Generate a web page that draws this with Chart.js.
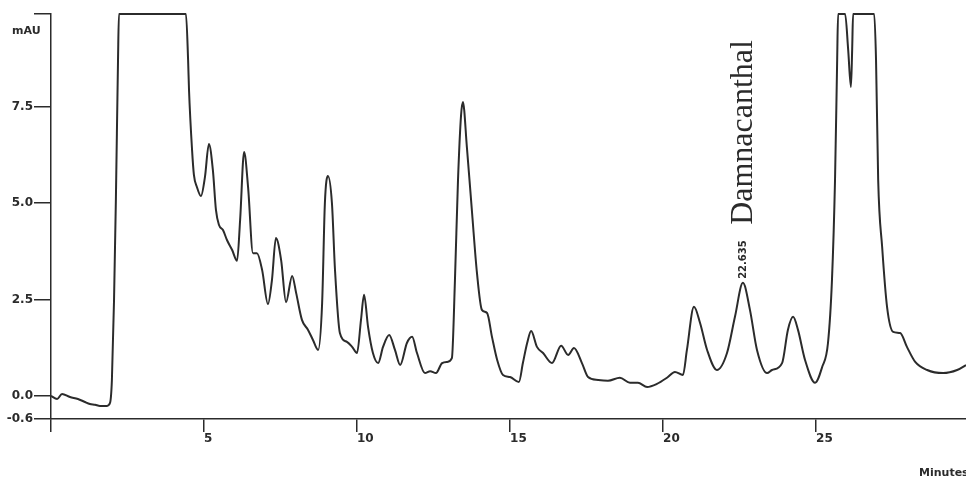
<!DOCTYPE html>
<html lang="en">
<head>
    <meta charset="UTF-8">
    <title>HPLC chromatogram - Damnacanthal</title>
    <script src="https://cdn.jsdelivr.net/npm/chart.js"></script>
    <style>
        body {
            margin: 0;
            background: #ffffff;
        }
        .wrap {
            width: 966px;
            height: 479px;
        }
    </style>
</head>
<body>
    <div class="wrap">
        <canvas id="chromChart" width="966" height="479"></canvas>
    </div>

    <script>
        // Retention time (minutes) and detector signal (mAU)
        const timeMin = [
            0.00, 0.20, 0.36, 0.62, 0.88, 1.11, 1.27, 1.44, 1.60, 1.83, 1.93, 1.99, 2.06, 2.12, 2.19, 2.22,
            4.41, 4.48, 4.51, 4.61, 4.67, 4.77, 4.90, 5.03, 5.16, 5.29, 5.39, 5.49, 5.62, 5.75, 5.92, 6.08,
            6.18, 6.31, 6.44, 6.60, 6.73, 6.90, 7.09, 7.22, 7.35, 7.52, 7.68, 7.88, 8.01, 8.20, 8.40, 8.56,
            8.73, 8.86, 8.95, 9.05, 9.18, 9.28, 9.44, 9.67, 9.84, 10.00, 10.13, 10.23, 10.36, 10.52, 10.69,
            10.85, 11.05, 11.24, 11.41, 11.63, 11.80, 11.96, 12.22, 12.39, 12.58, 12.78, 12.94, 13.10, 13.20,
            13.30, 13.40, 13.46, 13.59, 13.76, 13.92, 14.08, 14.25, 14.41, 14.58, 14.77, 15.00, 15.29, 15.42,
            15.56, 15.69, 15.88, 16.08, 16.37, 16.67, 16.90, 17.09, 17.35, 17.55, 17.88, 18.20, 18.59, 18.92,
            19.18, 19.48, 19.80, 20.13, 20.39, 20.65, 20.78, 21.01, 21.21, 21.44, 21.76, 22.09, 22.35, 22.61,
            22.84, 23.07, 23.40, 23.56, 23.89, 24.08, 24.25, 24.41, 24.64, 24.97, 25.20, 25.39, 25.52, 25.62,
            25.69, 25.72, 25.95, 26.05, 26.14, 26.18, 26.21, 26.90, 26.96, 27.03, 27.16, 27.32, 27.52, 27.75,
            27.97, 28.24, 28.63, 29.15, 29.61, 29.90
        ];
        const signalMAU = [
            0.00, -0.08, 0.05, -0.03, -0.08, -0.16, -0.21, -0.23, -0.26, -0.26, -0.18, 0.41, 2.49, 5.08, 8.71, 9.90,
            9.90, 8.71, 7.93, 6.37, 5.73, 5.41, 5.18, 5.67, 6.53, 5.85, 4.82, 4.43, 4.30, 4.04, 3.78, 3.50,
            4.56, 6.32, 5.41, 3.70, 3.70, 3.26, 2.38, 3.00, 4.09, 3.52, 2.43, 3.11, 2.67, 1.97, 1.71, 1.45,
            1.19, 2.41, 5.00, 5.70, 5.00, 3.27, 1.63, 1.40, 1.27, 1.11, 1.97, 2.62, 1.79, 1.11, 0.85,
            1.27, 1.58, 1.19, 0.80, 1.37, 1.53, 1.11, 0.59, 0.64, 0.59, 0.85, 0.88, 0.98, 3.00,
            5.60, 7.28, 7.62, 6.45, 4.74, 3.18, 2.23, 2.15, 1.53, 0.93, 0.54, 0.49, 0.36, 0.85,
            1.37, 1.68, 1.27, 1.11, 0.85, 1.30, 1.06, 1.24, 0.85, 0.49, 0.41, 0.39, 0.47, 0.34,
            0.34, 0.23, 0.31, 0.47, 0.62, 0.54, 1.19, 2.31, 1.89, 1.19, 0.67, 1.11, 2.05, 2.93,
            2.23, 1.19, 0.59, 0.67, 0.85, 1.71, 2.05, 1.71, 0.93, 0.34, 0.75, 1.37, 3.00, 5.60,
            8.71, 9.90, 9.90, 8.97, 8.01, 8.97, 9.90, 9.90, 8.71, 5.60, 3.86, 2.31, 1.66, 1.63,
            1.27, 0.88, 0.67, 0.59, 0.67, 0.80
        ];

        const xTicks = [0, 5, 10, 15, 20, 25];
        const yTicks = [-0.6, 0, 2.5, 5, 7.5, 9.9];

        const peakName = 'Damnacanthal';
        const peakTime = 22.635;
        const peakHeight = 2.93;

        const inkColor = '#2b2b2b';
        const tickFont = { family: 'DejaVu Sans', size: 12, weight: 'bold' };

        // Extra text: axis units and the peak annotation
        const labelsPlugin = {
            id: 'chromLabels',
            afterDraw(chart) {
                const ctx = chart.ctx;
                const xs = chart.scales.x;
                const ys = chart.scales.y;
                ctx.save();
                ctx.fillStyle = inkColor;

                ctx.font = 'bold 11px "DejaVu Sans"';
                ctx.textAlign = 'left';
                ctx.textBaseline = 'middle';
                ctx.fillText('mAU', 12, 31);
                ctx.fillText('Minutes', 919, 473);

                const px = xs.getPixelForValue(peakTime);
                const py = ys.getPixelForValue(peakHeight);

                ctx.translate(px, py);
                ctx.rotate(-Math.PI / 2);
                ctx.font = 'bold 10px "DejaVu Sans"';
                ctx.textAlign = 'left';
                ctx.textBaseline = 'middle';
                ctx.fillText(peakTime.toFixed(3), 4, 0);

                ctx.font = '32px "Liberation Serif"';
                ctx.fillText(peakName, 58, 0);
                ctx.restore();
            }
        };

        const ctx = document.getElementById('chromChart').getContext('2d');
        new Chart(ctx, {
            type: 'line',
            data: {
                datasets: [{
                    label: 'Signal (mAU)',
                    data: timeMin.map((t, i) => ({ x: t, y: signalMAU[i] })),
                    borderColor: inkColor,
                    borderWidth: 2,
                    pointRadius: 0,
                    fill: false,
                    cubicInterpolationMode: 'monotone',
                    clip: 4
                }]
            },
            options: {
                responsive: false,
                animation: false,
                layout: { padding: { top: 14, left: 0, right: 0, bottom: 0 } },
                plugins: {
                    legend: { display: false },
                    tooltip: { enabled: false }
                },
                scales: {
                    x: {
                        type: 'linear',
                        min: 0,
                        max: 29.9,
                        afterFit: (scale) => { scale.height = 60; },
                        afterBuildTicks: (scale) => { scale.ticks = xTicks.map(v => ({ value: v })); },
                        border: { display: true, color: inkColor, width: 1.5 },
                        grid: { drawOnChartArea: false, drawTicks: true, tickLength: 13, color: inkColor, lineWidth: 1.5 },
                        ticks: {
                            autoSkip: false,
                            maxRotation: 0,
                            align: 'start',
                            padding: 0,
                            color: inkColor,
                            font: tickFont,
                            callback: (v) => (v === 0 ? '' : String(v))
                        }
                    },
                    y: {
                        min: -0.6,
                        max: 9.9,
                        afterFit: (scale) => { scale.width = 51; },
                        afterBuildTicks: (scale) => { scale.ticks = yTicks.map(v => ({ value: v })); },
                        border: { display: true, color: inkColor, width: 1.5 },
                        grid: { drawOnChartArea: false, drawTicks: true, tickLength: 17, color: inkColor, lineWidth: 1.5 },
                        ticks: {
                            autoSkip: false,
                            padding: 1,
                            color: inkColor,
                            font: tickFont,
                            callback: (v) => (v === 9.9 ? '' : v.toFixed(1))
                        }
                    }
                }
            },
            plugins: [labelsPlugin]
        });
    </script>
</body>
</html>
